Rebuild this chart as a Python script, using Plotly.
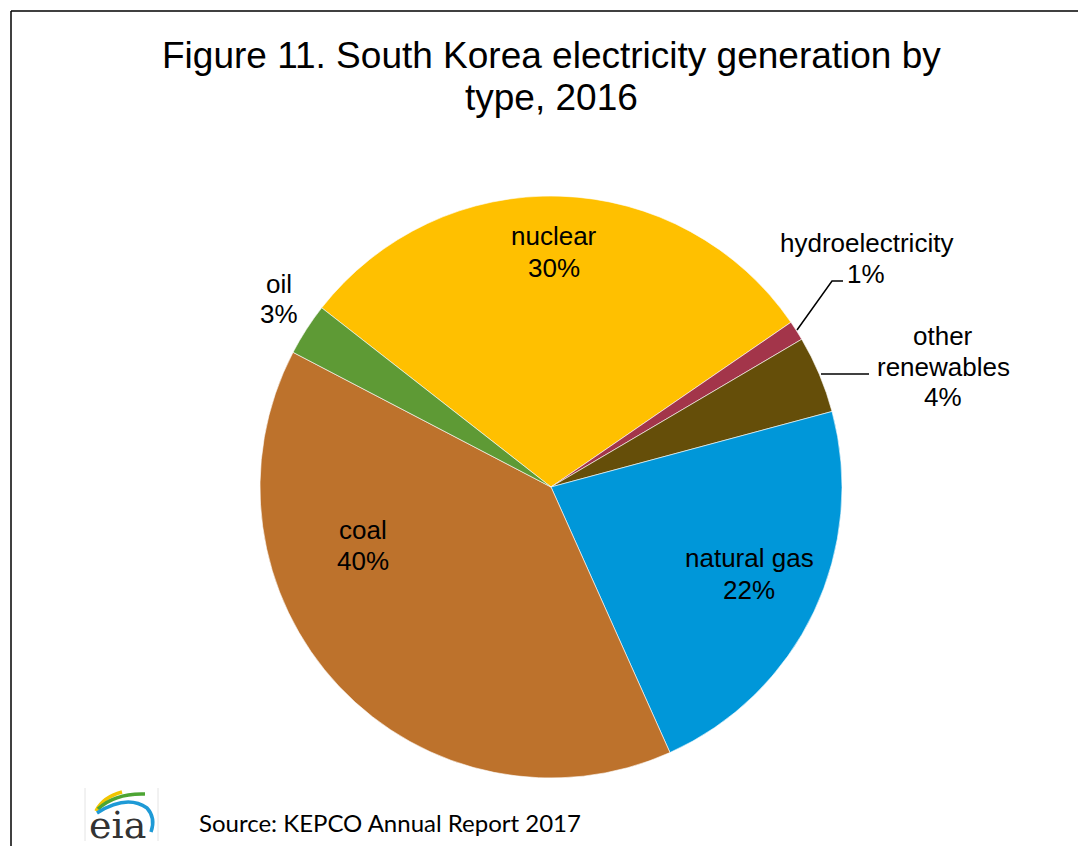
import plotly.graph_objects as go

W, H = 1078, 846

# Data (percent share of generation, 2016)
categories = ["nuclear", "hydroelectricity", "other renewables", "natural gas", "coal", "oil"]
values = [29.9, 1.1, 4.3, 22.5, 39.4, 2.9]
label_lines = [["nuclear", "30%"], ["hydroelectricity", "1%"], ["other", "renewables", "4%"],
               ["natural gas", "22%"], ["coal", "40%"], ["oil", "3%"]]
colors = ["#FFC000", "#A3354A", "#654E09", "#0097D9", "#BD722C", "#5E9A35"]
title_lines = ["Figure 11. South Korea electricity generation by", "type, 2016"]
source_text = "Source: KEPCO Annual Report 2017"


def px(x):
    return x / W


def py(y):
    return 1 - y / H


cx, cy, r = 551, 487, 291

fig = go.Figure()
fig.add_trace(go.Pie(
    labels=categories,
    values=values,
    sort=False,
    direction="clockwise",
    rotation=-52,
    marker=dict(colors=colors, line=dict(color="white", width=0.6)),
    textinfo="none",
    hoverinfo="label+percent",
    showlegend=False,
    domain=dict(x=[px(cx - r), px(cx + r)], y=[py(cy + r), py(cy - r)]),
))

font_lab = dict(family="Liberation Sans, Arial, sans-serif", size=26, color="black")
# (center x, y of first line, line spacing)
label_pos = {
    "nuclear": (554, 236, 32),
    "hydroelectricity": (866, 243, 31),
    "other renewables": (943, 336, 30.5),
    "natural gas": (749, 558, 32),
    "coal": (363, 530, 31),
    "oil": (279, 284, 30),
}
annotations = []
for cat, lines in zip(categories, label_lines):
    x, y0, dy = label_pos[cat]
    for i, ln in enumerate(lines):
        annotations.append(dict(x=px(x), y=py(y0 + i * dy), xref="paper", yref="paper", text=ln,
                                showarrow=False, font=font_lab, align="center",
                                xanchor="center", yanchor="middle"))

# Title
for i, ln in enumerate(title_lines):
    annotations.append(dict(x=px(551), y=py(56 + i * 41), xref="paper", yref="paper",
                            text=ln, showarrow=False, xanchor="center", yanchor="middle",
                            font=dict(family="Liberation Sans, Arial, sans-serif", size=37,
                                      color="black")))
# Source
annotations.append(dict(x=px(197), y=py(822), xref="paper", yref="paper",
                        text=source_text, showarrow=False,
                        xanchor="left", yanchor="middle",
                        font=dict(family="Lato, sans-serif", size=24, color="black")))
# eia logo text
annotations.append(dict(x=px(117), y=py(825), xref="paper", yref="paper",
                        text="eia", showarrow=False, xanchor="center", yanchor="middle",
                        font=dict(family="DejaVu Serif, serif", size=38, color="#333333")))

shapes = [
    # frame (left and top)
    dict(type="line", xref="paper", yref="paper", x0=px(11), y0=py(11), x1=px(11), y1=0,
         line=dict(color="black", width=1.5)),
    dict(type="line", xref="paper", yref="paper", x0=px(11), y0=py(11), x1=1, y1=py(11),
         line=dict(color="black", width=1.5)),
    # leader lines
    dict(type="path", xref="paper", yref="paper",
         path=f"M {px(797)} {py(330)} L {px(832)} {py(281)} L {px(843)} {py(281)}",
         line=dict(color="black", width=1.5)),
    dict(type="line", xref="paper", yref="paper", x0=px(821), y0=py(374), x1=px(869), y1=py(374),
         line=dict(color="black", width=1.5)),
    # logo box edges
    dict(type="line", xref="paper", yref="paper", x0=px(85), y0=py(788), x1=px(85), y1=py(841),
         line=dict(color="#e4e4e4", width=1)),
    dict(type="line", xref="paper", yref="paper", x0=px(158), y0=py(788), x1=px(158), y1=py(841),
         line=dict(color="#e4e4e4", width=1)),
    # logo arcs
    dict(type="path", xref="paper", yref="paper",
         path=f"M {px(96)} {py(811)} Q {px(103)} {py(797)} {px(122)} {py(792)}",
         line=dict(color="#F2C500", width=3.5)),
    dict(type="path", xref="paper", yref="paper",
         path=f"M {px(98)} {py(809)} Q {px(115)} {py(793)} {px(145)} {py(794)}",
         line=dict(color="#4DA533", width=3.5)),
    dict(type="path", xref="paper", yref="paper",
         path=f"M {px(97)} {py(813)} Q {px(127)} {py(794)} {px(147)} {py(808)} Q {px(156)} {py(818)} {px(151)} {py(832)}",
         line=dict(color="#1E9AD6", width=3.5)),
]

fig.update_layout(
    width=W, height=H,
    margin=dict(l=0, r=0, t=0, b=0),
    paper_bgcolor="white", plot_bgcolor="white",
    annotations=annotations,
    shapes=shapes,
)

fig.write_html("out.html", post_script="document.body.style.margin='0px';",
               config={"displayModeBar": False})
